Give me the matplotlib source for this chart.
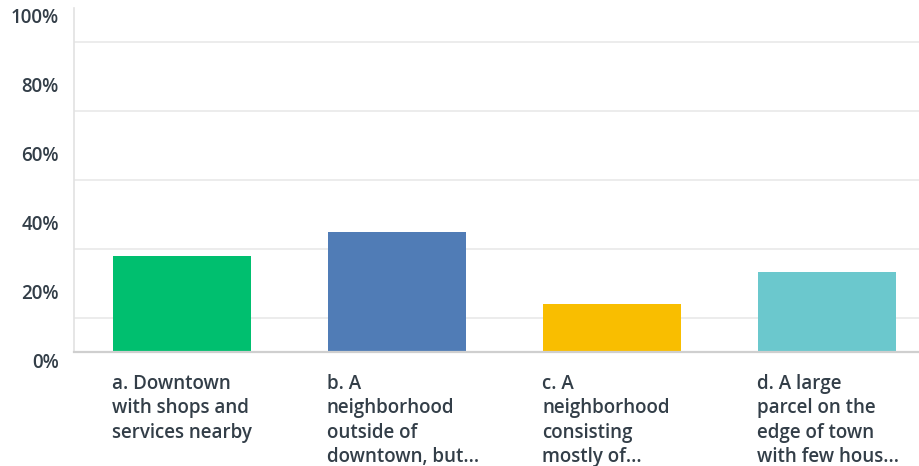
import matplotlib
matplotlib.use("Agg")
import matplotlib.pyplot as plt
import matplotlib.transforms as mtransforms
import numpy as np

# answer choices and share of responses (%)
categories = [
    "a. Downtown\nwith shops and\nservices nearby",
    "b. A\nneighborhood\noutside of\ndowntown, but...",
    "c. A\nneighborhood\nconsisting\nmostly of...",
    "d. A large\nparcel on the\nedge of town\nwith few hous...",
]
values = [27.91, 34.88, 13.95, 23.26]
colors = ["#00bf6f", "#507cb6", "#f9be00", "#6bc8cd"]
ytick_values = [0, 20, 40, 60, 80, 100]
ytick_labels = ["0%", "20%", "40%", "60%", "80%", "100%"]

text_color = "#333e48"
font = "Open Sans"

fig = plt.figure(figsize=(9.2, 4.66), dpi=100)
ax = fig.add_axes([74 / 920, 114 / 466, 861 / 920, 344 / 466])

x = np.arange(len(values))
width = 0.64
ax.bar(x, values, width=width, color=colors, zorder=3)

ax.set_xlim(-0.5, len(values) - 0.5)
ax.set_ylim(0, 100)

# gridlines every 10% (none on the top edge), labels every 20%
ax.set_yticks(np.arange(10, 100, 10), minor=True)
ax.set_yticks(ytick_values)
ax.set_yticklabels(ytick_labels)
ax.grid(axis="y", which="minor", color="#ececec", linewidth=1.4, zorder=0)
ax.tick_params(axis="y", which="both", length=0, pad=11,
               labelsize=13.5, labelcolor=text_color)
ax.tick_params(axis="x", length=0, labelbottom=False)
shift = mtransforms.ScaledTranslation(0, -8 / 100, fig.dpi_scale_trans)
for lab in ax.get_yticklabels():
    lab.set_fontfamily(font)
    lab.set_fontweight("semibold")
    lab.set_transform(lab.get_transform() + shift)

for side in ["top", "right"]:
    ax.spines[side].set_visible(False)
ax.spines["left"].set_color("#e2e2e2")
ax.spines["left"].set_linewidth(1.2)
ax.spines["bottom"].set_color("#cfcfcf")
ax.spines["bottom"].set_linewidth(1.6)
ax.spines["bottom"].set_zorder(4)

# category labels, left-aligned under each bar
trans = mtransforms.blended_transform_factory(ax.transData, ax.transAxes)
for xi, label in zip(x, categories):
    ax.text(xi - width / 2 - 0.005, -22 / 344, label, transform=trans,
            ha="left", va="top", fontsize=13.5, color=text_color,
            family=font, fontweight="semibold", linespacing=1.29)

fig.savefig("out.png", dpi=100)
